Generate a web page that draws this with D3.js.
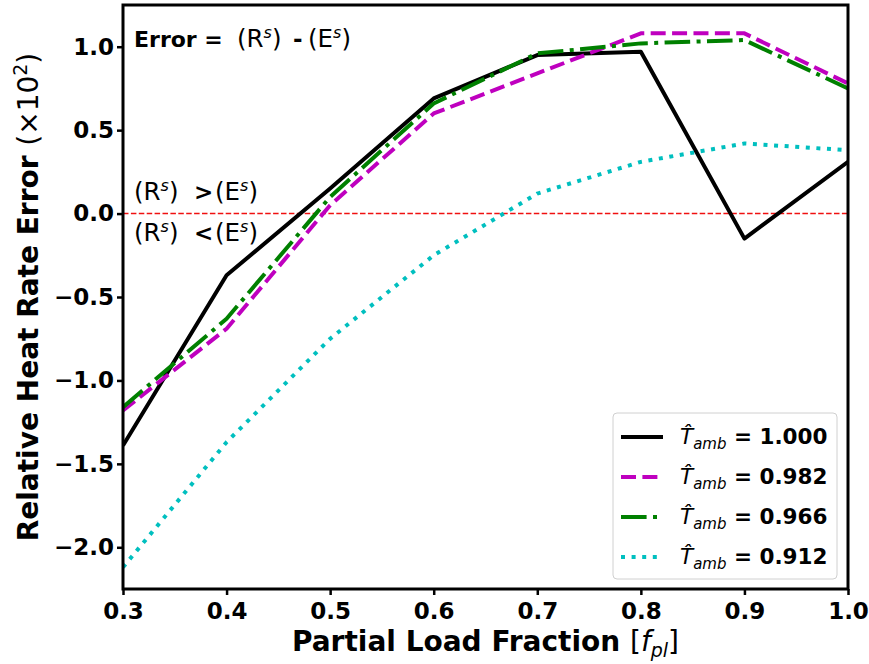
<!DOCTYPE html>
<html>
<head>
<meta charset="utf-8">
<script src="https://cdn.jsdelivr.net/npm/d3@7"></script>
<style>
  body { margin: 0; background: #fff; }
  text { font-family: "DejaVu Sans", sans-serif; }
</style>
</head>
<body>
<svg id="chart" width="869" height="664"></svg>
<script>
// partial load fractions
const loads = [0.3, 0.4, 0.5, 0.6, 0.7, 0.8, 0.9, 1.0];

// relative heat rate error (x10^2) per ambient temperature
const err1000 = [-1.39, -0.37, 0.15, 0.69, 0.95, 0.97, -0.15, 0.31];
const err0982 = [-1.18, -0.69, 0.05, 0.60, 0.84, 1.08, 1.08, 0.78];
const err0966 = [-1.16, -0.63, 0.10, 0.66, 0.96, 1.02, 1.04, 0.75];
const err0912 = [-2.12, -1.37, -0.75, -0.25, 0.12, 0.31, 0.42, 0.38];

const tambLabels = ["1.000", "0.982", "0.966", "0.912"];
const xTicks = [0.3, 0.4, 0.5, 0.6, 0.7, 0.8, 0.9, 1.0];
const yTicks = [-2.0, -1.5, -1.0, -0.5, 0.0, 0.5, 1.0];

const series = [
  { values: err1000, label: tambLabels[0], color: "#000000", dash: null },
  { values: err0982, label: tambLabels[1], color: "#bf00bf", dash: "15,6.4" },
  { values: err0966, label: tambLabels[2], color: "#008000", dash: "25.6,6.4,4,6.4" },
  { values: err0912, label: tambLabels[3], color: "#00bfbf", dash: "4,6.6" }
];

const svg = d3.select("#chart");
const pLeft = 123, pRight = 848, pTop = 5, pBottom = 589;

const x = d3.scaleLinear().domain([0.3, 1.0]).range([pLeft, pRight]);
const y = d3.scaleLinear().domain([-2.25, 1.25]).range([pBottom, pTop]);

svg.append("defs").append("clipPath").attr("id", "plotClip")
  .append("rect")
  .attr("x", pLeft).attr("y", pTop)
  .attr("width", pRight - pLeft).attr("height", pBottom - pTop);

// axes
const fmt = d => d3.format(".1f")(d).replace("-", "\u2212");

const xAxis = svg.append("g")
  .attr("transform", `translate(0,${pBottom})`)
  .call(d3.axisBottom(x).tickValues(xTicks).tickFormat(d3.format(".1f")).tickSize(6).tickPadding(8));
const yAxis = svg.append("g")
  .attr("transform", `translate(${pLeft},0)`)
  .call(d3.axisLeft(y).tickValues(yTicks).tickFormat(fmt).tickSize(6).tickPadding(3));

[xAxis, yAxis].forEach(a => {
  a.select(".domain").remove();
  a.selectAll(".tick line").attr("stroke", "#000").attr("stroke-width", 2.5);
  a.selectAll(".tick text")
    .attr("font-family", "DejaVu Sans")
    .attr("font-weight", "bold")
    .attr("font-size", 23)
    .attr("fill", "#000");
});

// zero reference line
svg.append("line")
  .attr("x1", pLeft).attr("x2", pRight)
  .attr("y1", y(0)).attr("y2", y(0))
  .attr("stroke", "#f01010")
  .attr("stroke-width", 1.4)
  .attr("stroke-dasharray", "5.5,2.4");

// series lines
const line = d3.line()
  .x((d, i) => x(loads[i]))
  .y(d => y(d));

const plot = svg.append("g").attr("clip-path", "url(#plotClip)");
series.forEach(s => {
  plot.append("path")
    .datum(s.values)
    .attr("d", line)
    .attr("fill", "none")
    .attr("stroke", s.color)
    .attr("stroke-width", 4)
    .attr("stroke-linejoin", "round")
    .attr("stroke-dasharray", s.dash);
});

// frame
svg.append("rect")
  .attr("x", pLeft).attr("y", pTop)
  .attr("width", pRight - pLeft).attr("height", pBottom - pTop)
  .attr("fill", "none")
  .attr("stroke", "#000")
  .attr("stroke-width", 3);

// annotations: (R^s) / (E^s) pieces placed like the mathtext layout
function term(sel, letter, px, baseY) {
  sel.append("tspan").attr("x", px).attr("y", baseY).text("(" + letter);
  sel.append("tspan").attr("font-size", 16).attr("font-style", "italic").attr("dy", -9).text("s");
  sel.append("tspan").attr("dy", 9).text(")");
}

function relation(baseY, rX, op, opX, eX) {
  const t = svg.append("text").attr("font-size", 24.5);
  term(t, "R", rX, baseY);
  t.append("tspan").attr("x", opX).attr("y", baseY)
    .attr("font-size", 23).attr("font-weight", "bold").text(op);
  term(t, "E", eX, baseY);
  return t;
}

svg.append("text").attr("x", 134).attr("y", 47)
  .attr("font-size", 22).attr("font-weight", "bold").text("Error =");
relation(47, 237, "-", 293, 308);
relation(200, 134, ">", 194, 215);
relation(241, 134, "<", 194, 215);

// axis labels
const xl = svg.append("text")
  .attr("x", (pLeft + pRight) / 2).attr("y", 651)
  .attr("text-anchor", "middle")
  .attr("font-size", 28);
xl.append("tspan").attr("font-weight", "bold").text("Partial Load Fraction ");
xl.append("tspan").text("[");
xl.append("tspan").attr("font-style", "italic").text("f");
xl.append("tspan").attr("font-style", "italic").attr("font-size", 19).attr("dy", 6).text("pl");
xl.append("tspan").attr("dy", -6).text("]");

const yl = svg.append("text")
  .attr("transform", `translate(38,${(pTop + pBottom) / 2}) rotate(-90)`)
  .attr("text-anchor", "middle")
  .attr("font-size", 28);
yl.append("tspan").attr("font-weight", "bold").text("Relative Heat Rate Error ");
yl.append("tspan").text("(\u00d710");
yl.append("tspan").attr("font-size", 19).attr("dy", -11).text("2");
yl.append("tspan").attr("dy", 11).text(")");

// legend
const lg = svg.append("g");
lg.append("rect")
  .attr("x", 613).attr("y", 413).attr("width", 224).attr("height", 166)
  .attr("rx", 4)
  .attr("fill", "rgba(255,255,255,0.85)")
  .attr("stroke", "#d0d0d0").attr("stroke-width", 1);

series.forEach((s, i) => {
  const cy = 437 + i * 40;
  lg.append("line")
    .attr("x1", 621).attr("x2", 663)
    .attr("y1", cy).attr("y2", cy)
    .attr("stroke", s.color).attr("stroke-width", 4)
    .attr("stroke-dasharray", s.dash);
  const t = lg.append("text").attr("x", 680).attr("y", cy + 7).attr("font-size", 21.5);
  t.append("tspan").attr("font-style", "italic").text("T\u0302");
  t.append("tspan").attr("font-style", "italic").attr("font-size", 15).attr("dy", 5).text("amb");
  t.append("tspan").attr("dy", -5).attr("font-weight", "bold").text(" = " + s.label);
});
</script>
</body>
</html>
